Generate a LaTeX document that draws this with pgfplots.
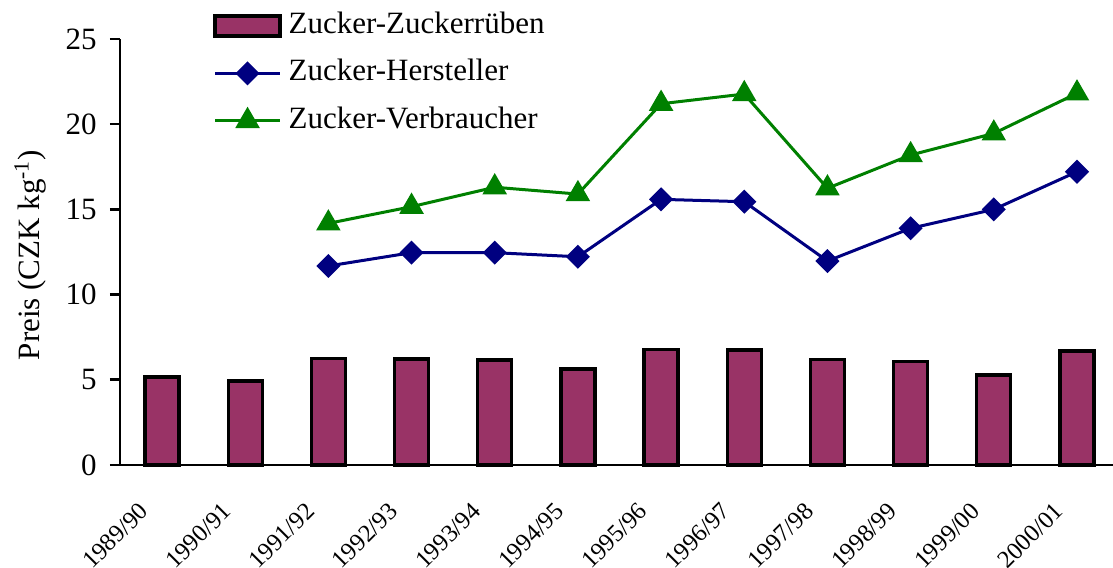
\documentclass[border=0pt]{standalone}
\usepackage{pgfplots}
\pgfplotsset{compat=1.18}
\usepackage{fontspec}
\setmainfont{Liberation Serif}
\definecolor{barc}{RGB}{153,51,102}
\definecolor{hers}{RGB}{0,0,128}
\definecolor{verb}{RGB}{0,128,0}
\pgfplotsset{
  mybarlegend/.style={legend image code/.code={\draw[##1] (0bp,-5bp) rectangle (32.5bp,5bp);}},
  mylinelegend/.style={legend image code/.code={\draw[mark repeat=2, mark phase=2, ##1] plot coordinates {(0bp,0bp) (16.25bp,0bp) (32.5bp,0bp)};}},
}
\begin{document}
\begin{tikzpicture}
\begin{axis}[
  at={(60bp,51.5bp)}, anchor=south west,
  scale only axis, width=496.5bp, height=213bp,
  xmin=-0.505, xmax=11.433, ymin=0, ymax=25,
  axis lines*=left,
  axis line style={line width=1.3bp, black},
  xtick={0,...,11},
  xticklabels={1989/90,1990/91,1991/92,1992/93,1993/94,1994/95,1995/96,1996/97,1997/98,1998/99,1999/00,2000/01},
  xtick style={draw=none},
  ytick={0,5,...,25}, ytick pos=left, tick align=outside,
  major tick length=5bp,
  ytick style={line width=1.3bp, black},
  /pgf/number format/assume math mode=true,
  yticklabel style={inner sep=0pt, xshift=-6.5bp, font=\fontsize{15.5bp}{18bp}\selectfont},
  xticklabel shift=16bp,
  xticklabel style={inner sep=0pt, xshift=-9bp, rotate=45, anchor=east, font=\fontsize{12.3bp}{15bp}\selectfont},
  ylabel={Preis (CZK kg\textsuperscript{-1})},
  every axis y label/.style={at={(axis description cs:-0.0906,0.493)}, rotate=90, anchor=center, font=\fontsize{15.5bp}{18bp}\selectfont},
  legend style={draw=none, fill=none, at={(axis description cs:0.0937,1.0657)}, anchor=north west, inner sep=0pt,
    nodes={inner sep=0pt, text height=11bp, text depth=3.5bp, font=\fontsize{15.5bp}{18bp}\selectfont},
    row sep=9.25bp, /tikz/every odd column/.append style={column sep=3.5bp}},
  legend cell align=left,
  clip=false,
]
\addplot[ybar, bar width=17bp, bar shift=0pt, fill=barc, draw=black, line width=1.6bp, mybarlegend]
  coordinates {(0,5.16) (1,4.93) (2,6.26) (3,6.22) (4,6.16) (5,5.63) (6,6.77) (7,6.75) (8,6.2) (9,6.08) (10,5.28) (11,6.69)};
\addlegendentry{Zucker-Zuckerrüben}
\addplot[hers, line width=1.5bp, mark=square*, mark size=3.5bp, mark options={rotate=45, solid, fill=hers}, mylinelegend]
  coordinates {(2,11.68) (3,12.46) (4,12.46) (5,12.22) (6,15.59) (7,15.45) (8,11.97) (9,13.89) (10,15.0) (11,17.21)};
\addlegendentry{Zucker-Hersteller}
\addplot[verb, line width=1.5bp, mark=triangle*, mark size=5.6bp, mark options={solid, fill=verb}, mylinelegend]
  coordinates {(2,14.18) (3,15.16) (4,16.3) (5,15.9) (6,21.2) (7,21.77) (8,16.24) (9,18.19) (10,19.46) (11,21.81)};
\addlegendentry{Zucker-Verbraucher}
\end{axis}
\pgfresetboundingbox
\useasboundingbox (0,0) rectangle (556.5bp,284bp);
\end{tikzpicture}
\end{document}
